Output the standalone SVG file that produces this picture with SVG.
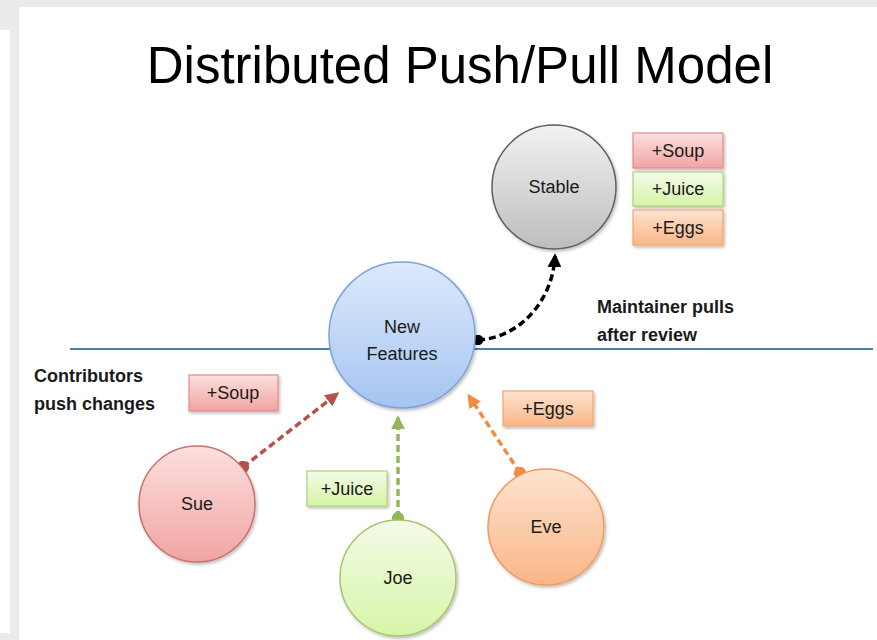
<svg xmlns="http://www.w3.org/2000/svg" width="877" height="640" viewBox="0 0 877 640">
<defs>
<linearGradient id="gBlue" x1="0" y1="0" x2="0" y2="1"><stop offset="0" stop-color="#dde9fb"/><stop offset="1" stop-color="#a5c4f1"/></linearGradient>
<linearGradient id="gGray" x1="0" y1="0" x2="0" y2="1"><stop offset="0" stop-color="#f2f2f2"/><stop offset="1" stop-color="#bdbdbd"/></linearGradient>
<linearGradient id="gRed" x1="0" y1="0" x2="0" y2="1"><stop offset="0" stop-color="#fbe0df"/><stop offset="1" stop-color="#f1a4a2"/></linearGradient>
<linearGradient id="gGreen" x1="0" y1="0" x2="0" y2="1"><stop offset="0" stop-color="#f4fbe9"/><stop offset="1" stop-color="#d6f5a6"/></linearGradient>
<linearGradient id="gOrange" x1="0" y1="0" x2="0" y2="1"><stop offset="0" stop-color="#fde3cf"/><stop offset="1" stop-color="#fab687"/></linearGradient>
<filter id="sh" x="-20%" y="-20%" width="140%" height="140%"><feDropShadow dx="1.5" dy="2" stdDeviation="1.5" flood-color="#000" flood-opacity="0.25"/></filter>
<marker id="aBlack" viewBox="0 0 10 10" refX="8" refY="5" markerWidth="4" markerHeight="4" orient="auto"><path d="M0 0 L10 5 L0 10 Z" fill="#000"/></marker>
<marker id="aRed" viewBox="0 0 10 10" refX="8" refY="5" markerWidth="4" markerHeight="4" orient="auto"><path d="M0 0 L10 5 L0 10 Z" fill="#b5514b"/></marker>
<marker id="aGreen" viewBox="0 0 10 10" refX="8" refY="5" markerWidth="4" markerHeight="4" orient="auto"><path d="M0 0 L10 5 L0 10 Z" fill="#92b658"/></marker>
<marker id="aOrange" viewBox="0 0 10 10" refX="8" refY="5" markerWidth="4" markerHeight="4" orient="auto"><path d="M0 0 L10 5 L0 10 Z" fill="#f08c45"/></marker>
<marker id="dBlack" viewBox="0 0 10 10" refX="5" refY="5" markerWidth="3" markerHeight="3"><circle cx="5" cy="5" r="5" fill="#000"/></marker>
<marker id="dRed" viewBox="0 0 10 10" refX="5" refY="5" markerWidth="3.5" markerHeight="3.5"><circle cx="5" cy="5" r="5" fill="#b5514b"/></marker>
<marker id="dGreen" viewBox="0 0 10 10" refX="5" refY="5" markerWidth="3.5" markerHeight="3.5"><circle cx="5" cy="5" r="5" fill="#92b658"/></marker>
<marker id="dOrange" viewBox="0 0 10 10" refX="5" refY="5" markerWidth="3.5" markerHeight="3.5"><circle cx="5" cy="5" r="5" fill="#f08c45"/></marker>
</defs>
<style>
text{font-family:"Liberation Sans",Arial,sans-serif;fill:#1a1a1a}
.title{font-size:51px;fill:#000}
.lbl{font-size:18px;text-anchor:middle}
.note{font-size:18px;font-weight:bold}
.node{stroke-width:1.5;filter:url(#sh)}
.box{stroke-width:1.2;filter:url(#sh)}
.con{fill:none;stroke-width:3.5;stroke-dasharray:7 4}
</style>
<rect width="877" height="640" fill="#fff"/>
<g id="frame" fill="#ebebeb">
<rect x="0" y="0" width="877" height="7"/>
<rect x="0" y="0" width="19" height="30"/>
<rect x="10" y="0" width="9" height="640"/>
<rect x="0" y="633" width="19" height="7"/>
</g>
<text class="title" x="460" y="83" text-anchor="middle">Distributed Push/Pull Model</text>
<line id="divider" x1="70" y1="349" x2="873" y2="349" stroke="#4a7ebb" stroke-width="2"/>
<text class="note" x="34" y="382">Contributors</text>
<text class="note" x="34" y="410">push changes</text>
<text class="note" x="597" y="313">Maintainer pulls</text>
<text class="note" x="597" y="341">after review</text>
<g id="connectors">
<path class="con" stroke="#000" d="M478 340 C520 338 553 300 555 256" marker-start="url(#dBlack)" marker-end="url(#aBlack)"/>
<path class="con" stroke="#b5514b" d="M243 467 L337 394" marker-start="url(#dRed)" marker-end="url(#aRed)"/>
<path class="con" stroke="#92b658" d="M398 518 L398 418" marker-start="url(#dGreen)" marker-end="url(#aGreen)"/>
<path class="con" stroke="#f08c45" d="M520 473 L469 396" marker-start="url(#dOrange)" marker-end="url(#aOrange)"/>
</g>
<g id="new-features">
<circle class="node" cx="402" cy="335" r="73" fill="url(#gBlue)" stroke="#7fa3d8"/>
<text class="lbl" x="402" y="333">New</text>
<text class="lbl" x="402" y="360">Features</text>
</g>
<g id="stable">
<circle class="node" cx="554" cy="187" r="62" fill="url(#gGray)" stroke="#5f5f5f"/>
<text class="lbl" x="554" y="193">Stable</text>
</g>
<g id="sue">
<circle class="node" cx="197" cy="504" r="58" fill="url(#gRed)" stroke="#c9706d"/>
<text class="lbl" x="197" y="510">Sue</text>
</g>
<g id="joe">
<circle class="node" cx="398" cy="578" r="58" fill="url(#gGreen)" stroke="#a6c46a"/>
<text class="lbl" x="398" y="584">Joe</text>
</g>
<g id="eve">
<circle class="node" cx="546" cy="527" r="58" fill="url(#gOrange)" stroke="#f29a5c"/>
<text class="lbl" x="546" y="533">Eve</text>
</g>
<g id="stable-soup">
<rect class="box" x="633" y="133" width="90" height="35" fill="url(#gRed)" stroke="#e08e8c"/>
<text class="lbl" x="678" y="157">+Soup</text>
</g>
<g id="stable-juice">
<rect class="box" x="633" y="172" width="90" height="34" fill="url(#gGreen)" stroke="#b0d07c"/>
<text class="lbl" x="678" y="195">+Juice</text>
</g>
<g id="stable-eggs">
<rect class="box" x="633" y="210" width="90" height="35" fill="url(#gOrange)" stroke="#f3a56c"/>
<text class="lbl" x="678" y="234">+Eggs</text>
</g>
<g id="sue-soup">
<rect class="box" x="189" y="375" width="89" height="36" fill="url(#gRed)" stroke="#e08e8c"/>
<text class="lbl" x="233" y="399">+Soup</text>
</g>
<g id="joe-juice">
<rect class="box" x="307" y="471" width="80" height="35" fill="url(#gGreen)" stroke="#b0d07c"/>
<text class="lbl" x="347" y="495">+Juice</text>
</g>
<g id="eve-eggs">
<rect class="box" x="503" y="391" width="90" height="35" fill="url(#gOrange)" stroke="#f3a56c"/>
<text class="lbl" x="548" y="415">+Eggs</text>
</g>
</svg>
